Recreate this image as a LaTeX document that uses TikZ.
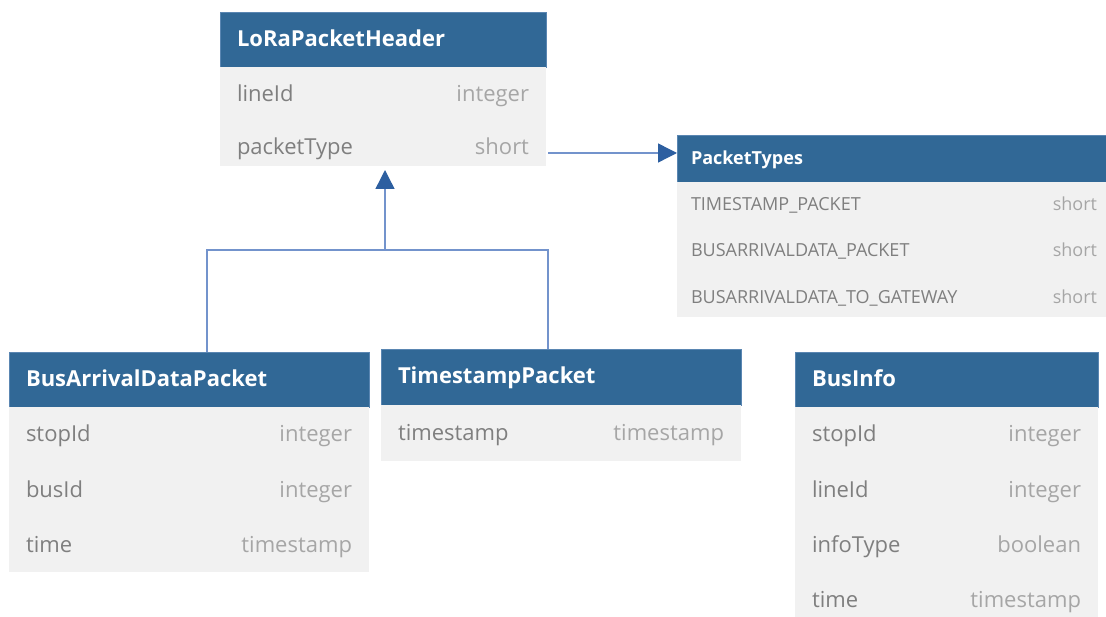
\documentclass[tikz,border=0pt]{standalone}
\usepackage{fontspec}
\setmainfont{Open Sans}
\usetikzlibrary{positioning,arrows.meta}

\definecolor{hdrblue}{HTML}{316896}
\definecolor{hdredge}{HTML}{5A86B2}
\definecolor{rowgray}{HTML}{F1F1F1}
\definecolor{namegray}{HTML}{7F7F7F}
\definecolor{typegray}{HTML}{A6A6A6}
\definecolor{linkblue}{HTML}{7393CC}
\definecolor{tipblue}{HTML}{2D5FA0}

\newcommand{\fld}[2]{\noindent{\color{namegray}#1}\hspace{0pt plus 1filll}{\color{typegray}#2}}

\begin{document}
\begin{tikzpicture}[x=1pt, y=-1pt, node distance=0pt,
        hdr/.style = {fill=hdrblue, draw=hdredge, line width=0.6pt, text=white,
            font=\bfseries\fontsize{22}{26}\selectfont, text width=#1, align=left,
            inner xsep=17pt, inner ysep=0pt, outer sep=0pt, minimum height=55pt,
            text height=18pt, text depth=4pt, anchor=north west},
        row/.style = {fill=rowgray, font=\fontsize{22}{26}\selectfont, text width=#1,
            inner xsep=17pt, inner ysep=0pt, outer sep=0pt, minimum height=55pt,
            text height=18.5pt, text depth=3.5pt},
        small/.style = {inner xsep=14pt, minimum height=46pt, text height=15pt, text depth=3pt},
        conn/.style = {draw=linkblue, line width=1.4pt},
        tip/.style = {-{Triangle[width=19pt,length=19pt,color=tipblue]}}]
    \useasboundingbox (0,0) rectangle (1106,617);

    % LoRaPacketHeader
    \node[hdr=292pt] (lrhdr) at (220,12) {LoRaPacketHeader};
    \node[row=292pt] (lrline) [below=of lrhdr] {\fld{lineId}{integer}};
    \node[row=292pt, minimum height=44pt, text height=21pt, text depth=0pt] (lrtype) [below=of lrline] {\fld{packetType}{short}};

    % PacketTypes
    \node[hdr=406pt, small, minimum height=47pt, font=\bfseries\fontsize{18}{22}\selectfont] (pthdr) at (677,135) {PacketTypes};
    \node[row=406pt, small, font=\fontsize{18}{22}\selectfont] (pt1) [below=of pthdr] {\fld{TIMESTAMP\_PACKET}{short}};
    \node[row=406pt, small, font=\fontsize{18}{22}\selectfont] (pt2) [below=of pt1] {\fld{BUSARRIVALDATA\_PACKET}{short}};
    \node[row=406pt, small, font=\fontsize{18}{22}\selectfont, minimum height=43pt, text height=17pt, text depth=1pt] (pt3) [below=of pt2] {\fld{BUSARRIVALDATA\_TO\_GATEWAY}{short}};

    % BusArrivalDataPacket
    \node[hdr=326pt] (badhdr) at (9,352) {BusArrivalDataPacket};
    \node[row=326pt] (bad1) [below=of badhdr] {\fld{stopId}{integer}};
    \node[row=326pt] (bad2) [below=of bad1] {\fld{busId}{integer}};
    \node[row=326pt] (bad3) [below=of bad2] {\fld{time}{timestamp}};

    % TimestampPacket
    \node[hdr=326pt, minimum height=56pt] (tshdr) at (381,349) {TimestampPacket};
    \node[row=326pt, minimum height=56pt] (ts1) [below=of tshdr] {\fld{timestamp}{timestamp}};

    % BusInfo
    \node[hdr=269pt] (bihdr) at (795,352) {BusInfo};
    \node[row=269pt] (bi1) [below=of bihdr] {\fld{stopId}{integer}};
    \node[row=269pt] (bi2) [below=of bi1] {\fld{lineId}{integer}};
    \node[row=269pt] (bi3) [below=of bi2] {\fld{infoType}{boolean}};
    \node[row=269pt] (bi4) [below=of bi3] {\fld{time}{timestamp}};

    % connectors
    \coordinate (split) at ([xshift=2pt]lrtype.south |- 0,250);
    \draw[conn] ([xshift=198pt]badhdr.north west) |- (split) -| ([xshift=167pt]tshdr.north west);
    \draw[conn, tip] (split) -- ([xshift=2pt,yshift=-4pt]lrtype.south);
    \draw[conn, tip] ([xshift=2pt,yshift=-9pt]lrtype.east) -- ([yshift=-9pt]lrtype.east -| pthdr.west);
\end{tikzpicture}
\end{document}
